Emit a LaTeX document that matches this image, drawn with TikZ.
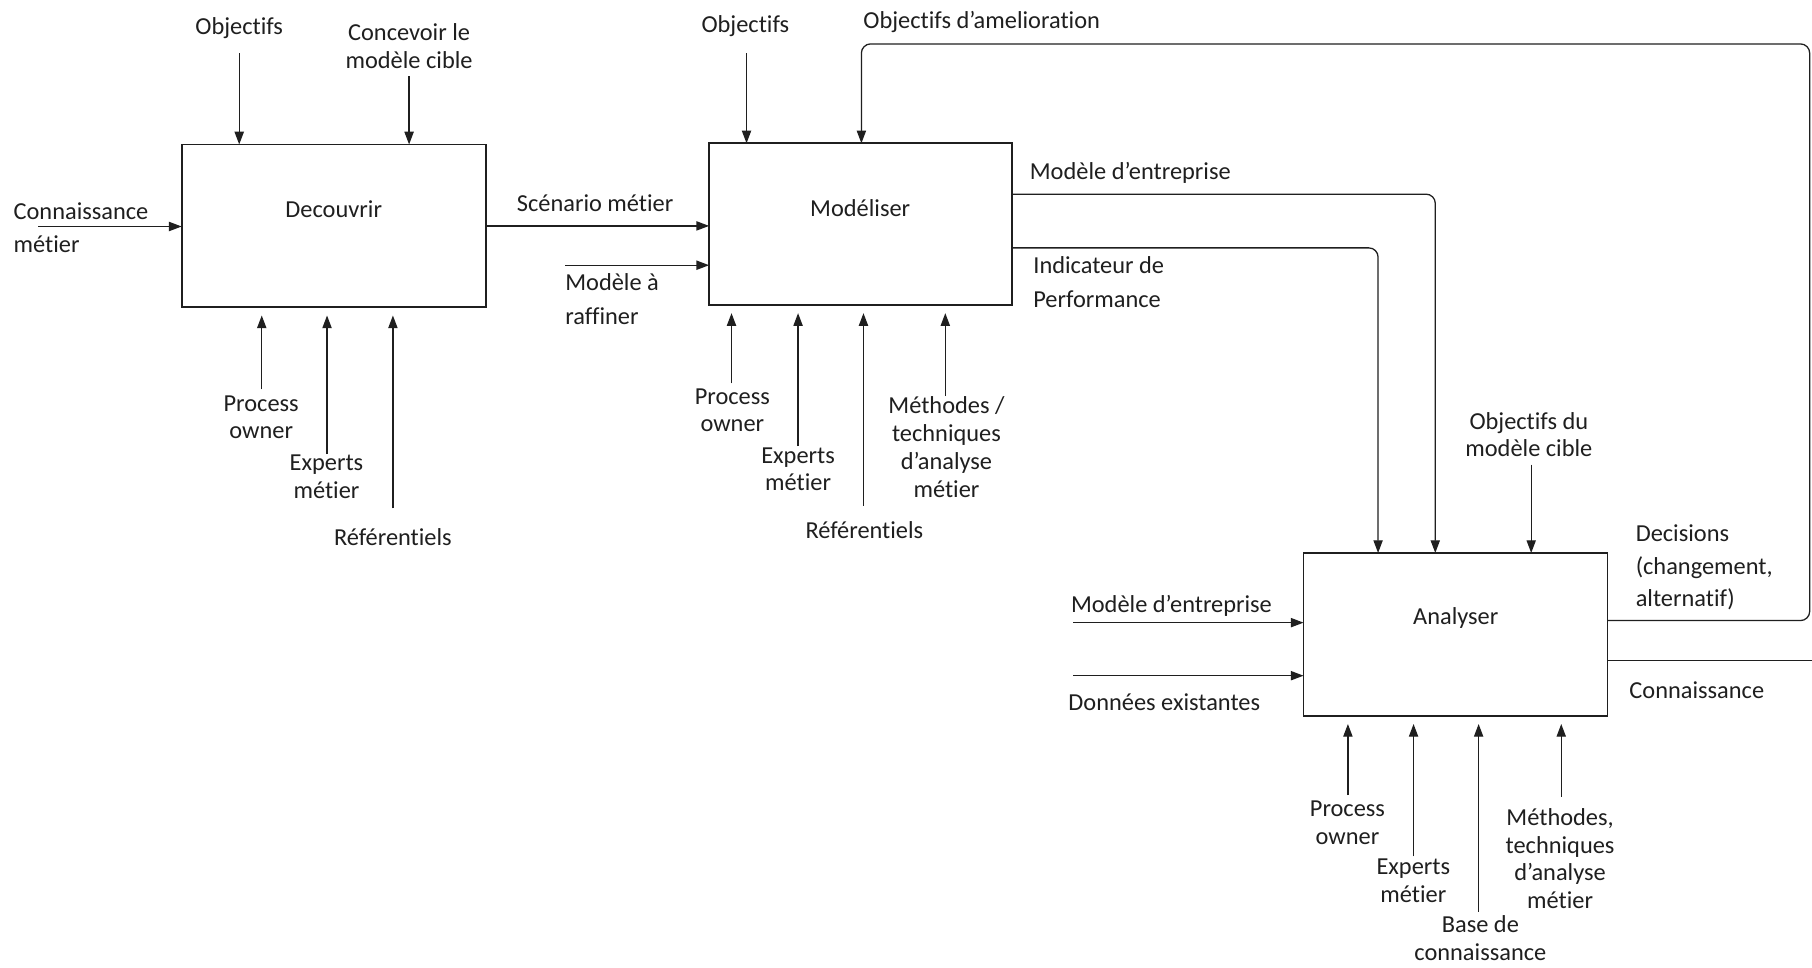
\documentclass[tikz,border=0pt]{standalone}
\usepackage{fontspec}
\setmainfont{Carlito}[Ligatures=NoCommon]
\usetikzlibrary{arrows.meta}
\definecolor{ink}{gray}{0.12}
\newcommand\labfont{\fontsize{21.1}{24}\selectfont}
\newcommand\labfontwide{\fontsize{21.1}{29}\selectfont}
\tikzset{
  box/.style={draw=ink, line width=1.6pt, inner sep=0pt, outer sep=0pt},
  flow/.style={draw=ink, line width=1.1pt, -{Triangle[length=11pt,width=8pt]}},
  upflow/.style={flow, shorten >=7pt},
  plain/.style={draw=ink, line width=1.1pt},
  txt/.style={text=ink, font=\labfont, inner sep=0pt, align=center},
  txtl/.style={text=ink, font=\labfontwide, inner sep=0pt, align=left, anchor=west},
}
\begin{document}
\begin{tikzpicture}[x=1pt,y=-1pt]
\useasboundingbox (0,0) rectangle (1568,837);
\fill[white] (0,0) rectangle (1568,837);

% ---------- Decouvrir ----------
\node[box, minimum width=263pt, minimum height=141pt] (dec) at (288.7,195.5) {};
\node[txt] (decT) at (288.8,181) {Decouvrir};

\node[txt] (decObj) at (207,24.5) {Objectifs};
\coordinate (decObjT) at (207,46);
\draw[flow] (decObjT) -- (decObjT |- dec.north);

\node[txt] (decCon) at (354,40) {Concevoir le\\modèle cible};
\coordinate (decConT) at (354,66);
\draw[flow] (decConT) -- (decConT |- dec.north);

\node[txtl] (decIn) at (11.6,197) {Connaissance\\métier};
\coordinate (decInT) at (33,196);
\draw[flow] (decInT) -- (decInT -| dec.west);

\node[txt] (decPO) at (226,361) {Process\\owner};
\coordinate (decPOT) at (226.5,337);
\draw[upflow] (decPOT) -- (decPOT |- dec.south);

\node[txt] (decEx) at (282.5,412.5) {Experts\\métier};
\coordinate (decExT) at (283,393);
\draw[upflow] (decExT) -- (decExT |- dec.south);

\node[txt] (decRef) at (340,465) {Référentiels};
\coordinate (decRefT) at (340,440);
\draw[upflow] (decRefT) -- (decRefT |- dec.south);

% ---------- Modéliser ----------
\node[box, minimum width=262pt, minimum height=140pt] (mod) at (744.6,194) {};
\node[txt] (modT) at (744.4,180) {Modéliser};

\node[txt] (scen) at (515,176) {Scénario métier};
\draw[flow] (dec.east) -- (dec.east -| mod.west);

\node[txtl] (raf) at (489,259) {Modèle à\\raffiner};
\coordinate (rafT) at (489,229.5);
\draw[flow] (rafT) -- (rafT -| mod.west);

\node[txt] (modObj) at (645,22.4) {Objectifs};
\coordinate (modObjT) at (646,46);
\draw[flow] (modObjT) -- (modObjT |- mod.north);

\node[txt] (modPO) at (633.7,355) {Process\\owner};
\coordinate (modPOT) at (633,331.8);
\draw[upflow] (modPOT) -- (modPOT |- mod.south);

\node[txt] (modEx) at (690.6,406) {Experts\\métier};
\coordinate (modExT) at (690.6,386);
\draw[upflow] (modExT) -- (modExT |- mod.south);

\node[txt] (modRef) at (748,459) {Référentiels};
\coordinate (modRefT) at (747.2,437.7);
\draw[upflow] (modRefT) -- (modRefT |- mod.south);

\node[txt] (modMeth) at (819,387) {Méthodes /\\techniques\\d’analyse\\métier};
\coordinate (modMethT) at (818,342.7);
\draw[upflow] (modMethT) -- (modMethT |- mod.south);

% ---------- Analyser ----------
\node[box, minimum width=263pt, minimum height=141pt] (ana) at (1259.5,549) {};
\node[txt] (anaT) at (1259.7,535) {Analyser};

% outputs of Modéliser feeding Analyser
\node[txtl] (modOutAL) at (891,150) {Modèle d’entreprise};
\coordinate (modOutA) at ([yshift=26pt]mod.east);
\coordinate (dropA) at (1242,168);
\draw[flow, rounded corners=8pt] (modOutA) -- (dropA) -- (dropA |- ana.north);

\node[txtl] (modOutBL) at (894,244) {Indicateur de\\Performance};
\coordinate (modOutB) at ([yshift=-20.5pt]mod.east);
\coordinate (dropB) at (1192.5,214.5);
\draw[flow, rounded corners=8pt] (modOutB) -- (dropB) -- (dropB |- ana.north);

\node[txt] (anaObj) at (1323,376) {Objectifs du\\modèle cible};
\coordinate (anaObjT) at (1325,402);
\draw[flow] (anaObjT) -- (anaObjT |- ana.north);

\node[txt] (anaInAL) at (1013.7,524) {Modèle d’entreprise};
\coordinate (anaInA) at (928.8,538.8);
\draw[flow] (anaInA) -- (anaInA -| ana.west);

\node[txt] (anaInBL) at (1007.5,608) {Données existantes};
\coordinate (anaInB) at (928.8,584.7);
\draw[flow] (anaInB) -- (anaInB -| ana.west);

\node[txt] (anaPO) at (1166,712) {Process\\owner};
\coordinate (anaPOT) at (1166.4,688);
\draw[upflow] (anaPOT) -- (anaPOT |- ana.south);

\node[txt] (anaEx) at (1223,762) {Experts\\métier};
\coordinate (anaExT) at (1223.2,741);
\draw[upflow] (anaExT) -- (anaExT |- ana.south);

\node[txt] (anaBase) at (1281,812) {Base de\\connaissance};
\coordinate (anaBaseT) at (1279.5,789);
\draw[upflow] (anaBaseT) -- (anaBaseT |- ana.south);

\node[txt] (anaMeth) at (1350,743) {Méthodes,\\techniques\\d’analyse\\métier};
\coordinate (anaMethT) at (1351,689.4);
\draw[upflow] (anaMethT) -- (anaMethT |- ana.south);

% decisions fed back to Modéliser
\node[txtl, font=\fontsize{21.1}{28}\selectfont] (decis) at (1415.3,491) {Decisions\\(changement,\\alternatif)};
\node[txt] (modAmel) at (849.5,18.7) {Objectifs d’amelioration};
\coordinate (fbStart) at ([yshift=12pt]ana.east);
\coordinate (fbA) at (1566,537);
\coordinate (fbB) at (1566,38);
\coordinate (fbC) at (745.4,38);
\draw[flow, rounded corners=8pt] (fbStart) -- (fbA) -- (fbB) -- (fbC) -- (fbC |- mod.north);

% knowledge output
\node[txtl] (know) at (1409.8,597) {Connaissance};
\coordinate (knowStart) at ([yshift=-22.7pt]ana.east);
\coordinate (knowEnd) at (1568,571.7);
\draw[plain] (knowStart) -- (knowEnd);
\end{tikzpicture}
\end{document}
